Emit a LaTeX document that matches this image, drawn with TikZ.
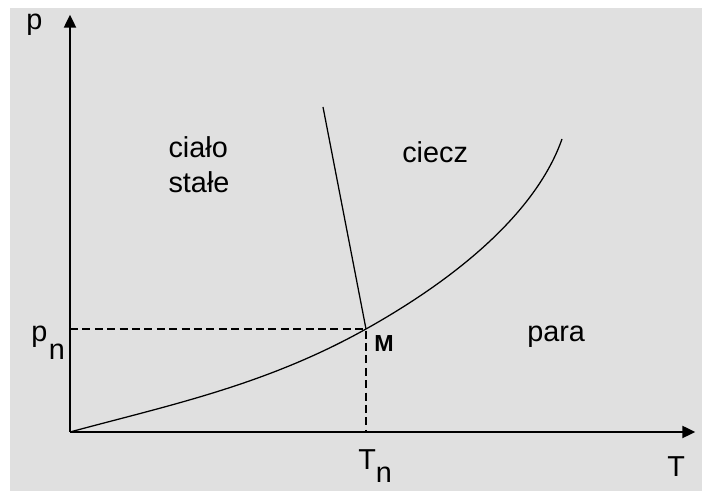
\documentclass[tikz,border=0pt]{standalone}
\usepackage{fontspec}
\setmainfont{Liberation Sans}
\usetikzlibrary{arrows.meta}
\definecolor{bggray}{gray}{0.878}

\begin{document}
\begin{tikzpicture}[
 every node/.style={inner sep=0pt,font=\fontsize{20.5}{25}\selectfont},
 axis/.style={line width=1.4pt,-{Triangle[length=0.32cm,width=0.3cm]}},
 phase/.style={line width=0.9pt},
 guide/.style={line width=0.9pt,dash pattern=on 0.2cm off 0.11cm},
 pointlabel/.style={font=\fontsize{16.5}{19}\selectfont\bfseries}]
\useasboundingbox (-1.75,-1.475) rectangle (15.8,10.8);
\fill[bggray] (-1.5,-1.475) rectangle (15.8,10.6);
\coordinate (O) at (0,0);
\coordinate (ptop) at (0,10.43);
\coordinate (Tend) at (15.63,0);
\coordinate (M) at (7.4,2.575);
\coordinate (pM) at (0,2.575);
\coordinate (TM) at (7.4,0);
\coordinate (melt) at (6.325,8.125);
\coordinate (vap) at (12.3,7.325);
% guides
\draw[guide] (pM) -- (M) -- (TM);
% phase boundaries
\draw[phase] (melt) -- (M);
\draw[phase] (O) .. controls (2.5,0.675) and (4.9,1.175) .. (M)
 .. controls (9.9,3.975) and (11.7,5.615) .. (vap);
% axes
\draw[axis] (O) -- (ptop);
\draw[axis] (O) -- (Tend);
% labels
\node[anchor=base west] (plabel) at (-1.1,10.05) {p};
\node[anchor=base west] (Tlabel) at (14.93,-1.125) {T};
\node[anchor=base west] (pn) at (-0.97,2.25) {p\hspace{0.05em}\raisebox{-0.6em}{n}};
\node[anchor=base west] (Tn) at (7.2,-0.95) {T\raisebox{-0.45em}{n}};
\node[pointlabel,anchor=base west] (Mlabel) at (7.6,2.0) {M};
\node[align=left] (solid) at (3.225,6.69) {ciało\\stałe};
\node[anchor=base west] (liquid) at (8.3,6.725) {ciecz};
\node[anchor=base west] (vapour) at (11.425,2.25) {para};
\end{tikzpicture}
\end{document}
